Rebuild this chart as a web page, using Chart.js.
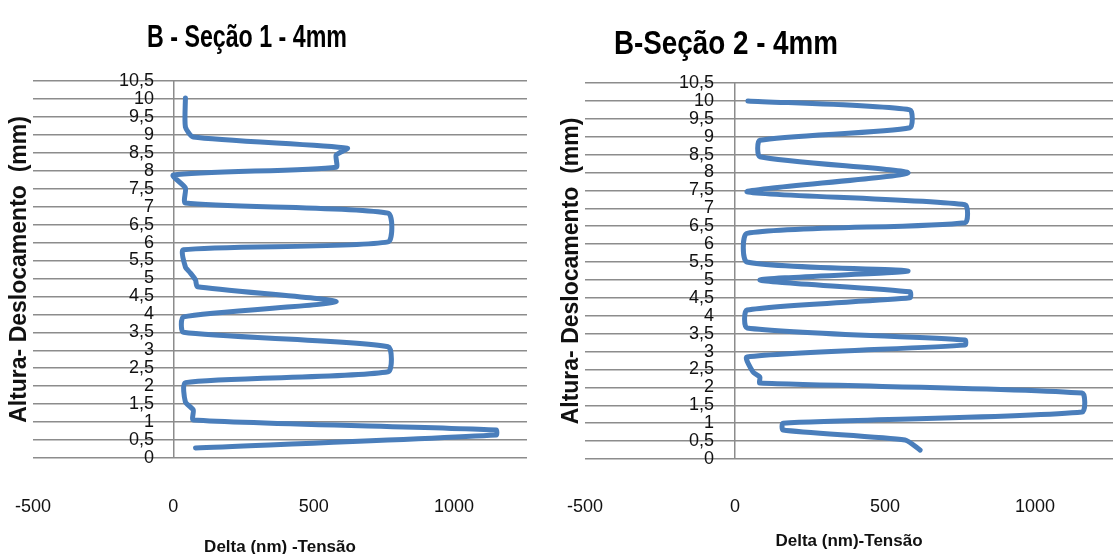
<!DOCTYPE html>
<html>
<head>
<meta charset="utf-8">
<title>B - Seção 1 / Seção 2 - 4mm</title>
<script src="https://cdn.jsdelivr.net/npm/chart.js@4.4.1/dist/chart.umd.min.js"></script>
<style>
  html, body { margin: 0; padding: 0; background: #fff; }
  #wrap { position: relative; width: 1113px; height: 554px; overflow: hidden; }
  .box { position: absolute; top: 0; height: 554px; }
  #b1 { left: 0; width: 556px; }
  #b2 { left: 556px; width: 557px; }
</style>
</head>
<body>
<div id="wrap">
  <div class="box" id="b1"><canvas id="c1" width="556" height="554"></canvas></div>
  <div class="box" id="b2"><canvas id="c2" width="557" height="554"></canvas></div>
</div>
<script>
// valores: Delta (nm) x Altura (mm)
const deltaS1  = [79, 1150, 1150, 71, 71, 43, 43, 765, 765, 36, 36, 580, 86, 79, 61, 43, 36, 765, 765, 43, 43, 0, 580, 580, 620, 71, 43, 43];
const alturaS1 = [0.28, 0.64, 0.78, 1.06, 1.34, 1.56, 2.1, 2.4, 3.1, 3.5, 3.93, 4.35, 4.77, 4.96, 5.15, 5.32, 5.8, 6.02, 6.82, 7.1, 7.52, 7.88, 8.1, 8.44, 8.63, 8.94, 9.22, 10.03];

const deltaS2  = [617, 567, 160, 160, 1157, 1157, 83, 83, 60, 40, 767, 767, 40, 40, 583, 583, 83, 577, 40, 40, 767, 767, 40, 577, 83, 83, 583, 583, 43];
const alturaS2 = [0.25, 0.53, 0.81, 1.0, 1.31, 1.84, 2.12, 2.29, 2.43, 2.85, 3.18, 3.32, 3.66, 4.16, 4.5, 4.67, 5.0, 5.25, 5.5, 6.3, 6.6, 7.1, 7.46, 7.99, 8.44, 8.9, 9.25, 9.75, 10.0];

const alturaTicks = [0, 0.5, 1, 1.5, 2, 2.5, 3, 3.5, 4, 4.5, 5, 5.5, 6, 6.5, 7, 7.5, 8, 8.5, 9, 9.5, 10, 10.5];
const deltaTicks = [-500, 0, 500, 1000];

const LINE = '#4a7ebb';
const GRID = '#8c8c8c';
const SANS = "'Liberation Sans', Arial, sans-serif";

// titulo do grafico em posicao livre, estreitado como o Calibri do Excel
const heading = {
  id: 'heading',
  afterDraw(chart, args, opts) {
    const ctx = chart.ctx;
    ctx.save();
    ctx.font = opts.font;
    ctx.fillStyle = '#000';
    ctx.textAlign = 'center';
    ctx.textBaseline = 'middle';
    const w = ctx.measureText(opts.text).width;
    ctx.translate(opts.x, opts.y);
    ctx.scale(opts.width / w, 1);
    ctx.fillText(opts.text, 0, 0);
    ctx.restore();
  }
};

function makeChart(id, deltas, alturas, cfg) {
  const pts = deltas.map((d, i) => ({ x: d, y: alturas[i] }));
  return new Chart(document.getElementById(id), {
    type: 'scatter',
    data: {
      datasets: [{
        data: pts,
        showLine: true,
        borderColor: LINE,
        borderWidth: 5,
        pointRadius: 0,
        tension: 0.2,
        borderJoinStyle: 'round',
        borderCapStyle: 'round'
      }]
    },
    options: {
      responsive: false,
      animation: false,
      devicePixelRatio: 1,
      layout: { padding: cfg.padding },
      plugins: {
        legend: { display: false },
        tooltip: { enabled: false },
        heading: cfg.heading
      },
      scales: {
        x: {
          type: 'linear',
          min: -500,
          max: 1260,
          afterBuildTicks: s => { s.ticks = deltaTicks.map(v => ({ value: v })); },
          afterFit: s => { s.height = cfg.xHeight; s.paddingLeft = 0; s.paddingRight = 0; },
          grid: {
            drawTicks: false,
            color: c => (c.tick && c.tick.value === 0 ? GRID : 'rgba(0,0,0,0)'),
            lineWidth: 1.5
          },
          border: { display: false },
          ticks: {
            autoSkip: false,
            maxRotation: 0,
            padding: cfg.xPad,
            color: '#111',
            font: { family: SANS, size: 18 },
            callback: v => String(v)
          },
          title: {
            display: true,
            text: cfg.xTitle,
            color: '#111',
            padding: { top: 0, bottom: cfg.xTitleBottom },
            font: { family: SANS, size: 17, weight: 'bold' }
          }
        },
        y: {
          type: 'linear',
          min: 0,
          max: 10.5,
          afterBuildTicks: s => { s.ticks = alturaTicks.map(v => ({ value: v })); },
          afterFit: s => { s.width = cfg.yWidth; s.paddingTop = 0; s.paddingBottom = 0; },
          grid: { drawTicks: false, color: GRID, lineWidth: 1.5 },
          border: { display: false },
          ticks: {
            autoSkip: false,
            mirror: true,
            crossAlign: 'far',
            padding: cfg.yPad,
            color: '#111',
            font: { family: SANS, size: 18 },
            callback: v => String(v).replace('.', ',')
          },
          title: {
            display: true,
            text: 'Altura- Deslocamento  (mm)',
            color: '#111',
            padding: 0,
            font: { family: SANS, size: 23, weight: 'bold' }
          }
        }
      }
    },
    plugins: [heading]
  });
}

makeChart('c1', deltaS1, alturaS1, {
  padding: { left: 6, right: 29, top: 81, bottom: 0 },
  yWidth: 27, xHeight: 96,
  xPad: 38, xTitleBottom: -4, yPad: 86,
  xTitle: 'Delta (nm) -Tensão',
  heading: { text: 'B - Seção 1 - 4mm', x: 247, y: 38, width: 200, font: 'bold 32px ' + SANS }
});

makeChart('c2', deltaS2, alturaS2, {
  padding: { left: 2, right: 0, top: 83, bottom: 0 },
  yWidth: 27, xHeight: 95,
  xPad: 37, xTitleBottom: 2, yPad: 94,
  xTitle: 'Delta (nm)-Tensão',
  heading: { text: 'B-Seção 2 - 4mm', x: 170, y: 45, width: 224, font: 'bold 33px ' + SANS }
});
</script>
</body>
</html>
